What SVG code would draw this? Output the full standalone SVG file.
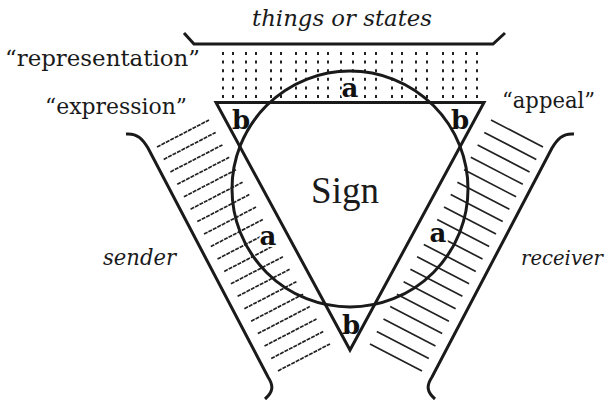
<svg xmlns="http://www.w3.org/2000/svg" width="609" height="401" viewBox="0 0 609 401">
<style>
.bg{fill:#fff}
.thick{fill:none;stroke:#1a1a1a;stroke-width:3;stroke-linejoin:miter;stroke-linecap:butt}
.dots{fill:none;stroke:#222;stroke-width:2;stroke-dasharray:3 5.6}
.hatchL{fill:none;stroke:#222;stroke-width:1.7;stroke-dasharray:4 1}
.hatchR{fill:none;stroke:#222;stroke-width:1.7}
.lbl{font-family:"DejaVu Serif","Liberation Serif",serif;font-size:22px;fill:#1a1a1a}
.it{font-family:"DejaVu Serif","Liberation Serif",serif;font-style:italic;font-size:22px;fill:#1a1a1a}
.it.small{font-size:19.5px}
.sign{font-family:"Liberation Serif","DejaVu Serif",serif;font-size:37px;fill:#1a1a1a}
.ab{font-family:"DejaVu Serif","Liberation Serif",serif;font-weight:bold;font-size:26px;fill:#111}
.halo{stroke:#fff;stroke-width:4;paint-order:stroke;stroke-linejoin:round}
</style>
<rect class="bg" x="0" y="0" width="609" height="401"/>
<g id="representation-field">
<path class="dots" d="M223,52V98M233,52V98M246,52V98M256,52V98M271,52V98M281,52V98M296,52V98M306,52V98M318,52V98M328,52V98M341,52V98M353,52V98M365,52V98M376,52V98M392,52V98M402,52V98M416,52V98M427,52V98M443,52V98M453,52V98M466,52V98M477,52V98"/>
<path class="thick" d="M184,33L194,44H493L505,33"/>
<text class="it" x="252" y="26" textLength="180" lengthAdjust="spacingAndGlyphs">things or states</text>
<text class="lbl" x="5" y="66" textLength="195" lengthAdjust="spacingAndGlyphs">“representation”</text>
</g>
<g id="sender">
<path class="hatchL" d="M157,147L209,120M163.7,159.4L215.7,132.4M170.4,171.9L222.4,144.9M177.2,184.3L229.2,157.3M183.9,196.8L235.9,169.8M190.6,209.2L242.6,182.2M197.3,221.6L249.3,194.6M204,234.1L256,207.1M210.8,246.5L262.8,219.5M217.5,259L269.5,232M224.2,271.4L276.2,244.4M230.9,283.8L282.9,256.8M237.6,296.3L289.6,269.3M244.4,308.7L296.4,281.7M251.1,321.2L303.1,294.2M257.8,333.6L309.8,306.6M264.5,346L316.5,319M271.2,358.5L323.2,331.5M278,370.9L330,343.9"/>
<path class="thick" d="M126,134C138,133 143,140 148,148L268,377C274,386 273,392 265,399"/>
<text class="it" x="103" y="265" textLength="73" lengthAdjust="spacingAndGlyphs">sender</text>
<text class="lbl" x="45" y="114" textLength="142" lengthAdjust="spacingAndGlyphs">“expression”</text>
</g>
<g id="receiver">
<path class="hatchR" d="M543,147L491,120M536.3,159.4L484.3,132.4M529.6,171.9L477.6,144.9M522.8,184.3L470.8,157.3M516.1,196.8L464.1,169.8M509.4,209.2L457.4,182.2M502.7,221.6L450.7,194.6M496,234.1L444,207.1M489.2,246.5L437.2,219.5M482.5,259L430.5,232M475.8,271.4L423.8,244.4M469.1,283.8L417.1,256.8M462.4,296.3L410.4,269.3M455.6,308.7L403.6,281.7M448.9,321.2L396.9,294.2M442.2,333.6L390.2,306.6M435.5,346L383.5,319M428.8,358.5L376.8,331.5M422,370.9L370,343.9"/>
<path class="thick" d="M574,134C562,133 557,140 552,148L432,377C426,386 427,392 435,399"/>
<text class="it small" x="521" y="265" textLength="82" lengthAdjust="spacingAndGlyphs">receiver</text>
<text class="lbl" x="502" y="108" textLength="93" lengthAdjust="spacingAndGlyphs">“appeal”</text>
</g>
<g id="sign">
<circle class="thick" cx="350" cy="189" r="118"/>
<path class="thick" d="M216,102.5H484L350,350Z"/>
<text class="sign" x="345" y="203" text-anchor="middle">Sign</text>
<text class="ab halo" x="350" y="97" text-anchor="middle">a</text>
<text class="ab halo" x="268" y="245" text-anchor="middle">a</text>
<text class="ab halo" x="438" y="242" text-anchor="middle">a</text>
<text class="ab" x="241" y="129" text-anchor="middle">b</text>
<text class="ab" x="460" y="129" text-anchor="middle">b</text>
<text class="ab" x="351" y="334" text-anchor="middle">b</text>
</g>
</svg>
